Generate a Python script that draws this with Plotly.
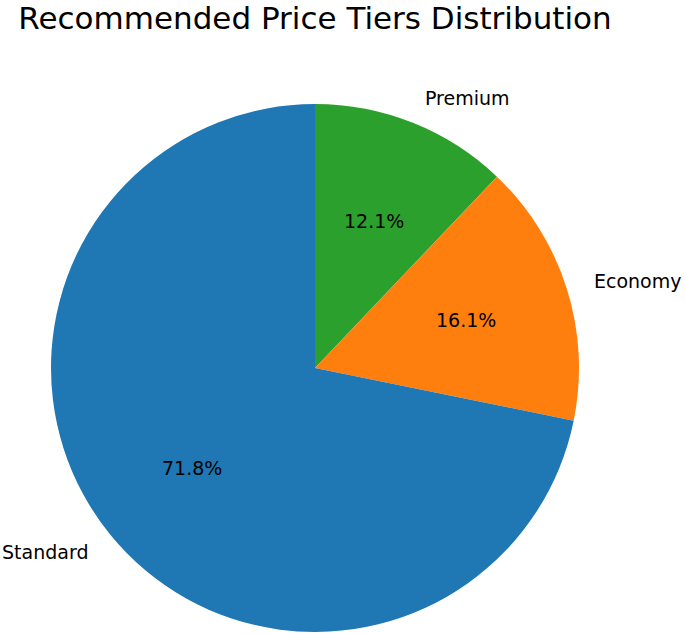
import math
import plotly.graph_objects as go

labels = ["Standard", "Economy", "Premium"]
values = [71.8, 16.1, 12.1]
colors = ["#1f77b4", "#ff7f0e", "#2ca02c"]

W, H = 685, 634
cx, cy, r = 315, 368, 264  # pixel layout of the pie

# slices go counterclockwise from 12 o'clock: draw reversed order clockwise
fig = go.Figure(go.Pie(
    labels=labels[::-1], values=values[::-1], sort=False, direction="clockwise",
    rotation=0, marker=dict(colors=colors[::-1], line=dict(width=0)),
    textinfo="none", hoverinfo="label+percent", showlegend=False,
    domain=dict(x=[(cx - r) / W, (cx + r) / W], y=[(H - cy - r) / H, (H - cy + r) / H]),
))

font = dict(family="DejaVu Sans", size=19, color="black")
total = sum(values)
start = 90.0
for lab, v in zip(labels, values):
    span = 360.0 * v / total
    mid = math.radians(start + span / 2)
    start += span
    c, s = math.cos(mid), math.sin(mid)
    lx, ly = cx + 1.1 * r * c, cy - 1.1 * r * s
    fig.add_annotation(x=lx / W, y=1 - ly / H, xref="paper", yref="paper", text=lab,
                       showarrow=False, xanchor="left" if c > 0 else "right", yanchor="middle", font=font)
    px, py = cx + 0.6 * r * c, cy - 0.6 * r * s
    fig.add_annotation(x=px / W, y=1 - py / H, xref="paper", yref="paper", text=f"{100 * v / total:.1f}%",
                       showarrow=False, xanchor="center", yanchor="middle", font=font)

fig.update_layout(
    width=W, height=H, margin=dict(l=0, r=0, t=0, b=0),
    paper_bgcolor="white", plot_bgcolor="white",
    title=dict(text="Recommended Price Tiers Distribution", x=315 / W, xanchor="center",
               y=1 - 18 / H, yanchor="middle", font=dict(family="DejaVu Sans", size=31, color="black")),
)
fig.write_html("out.html", config={"displayModeBar": False},
               post_script="document.body.style.margin='0';")
